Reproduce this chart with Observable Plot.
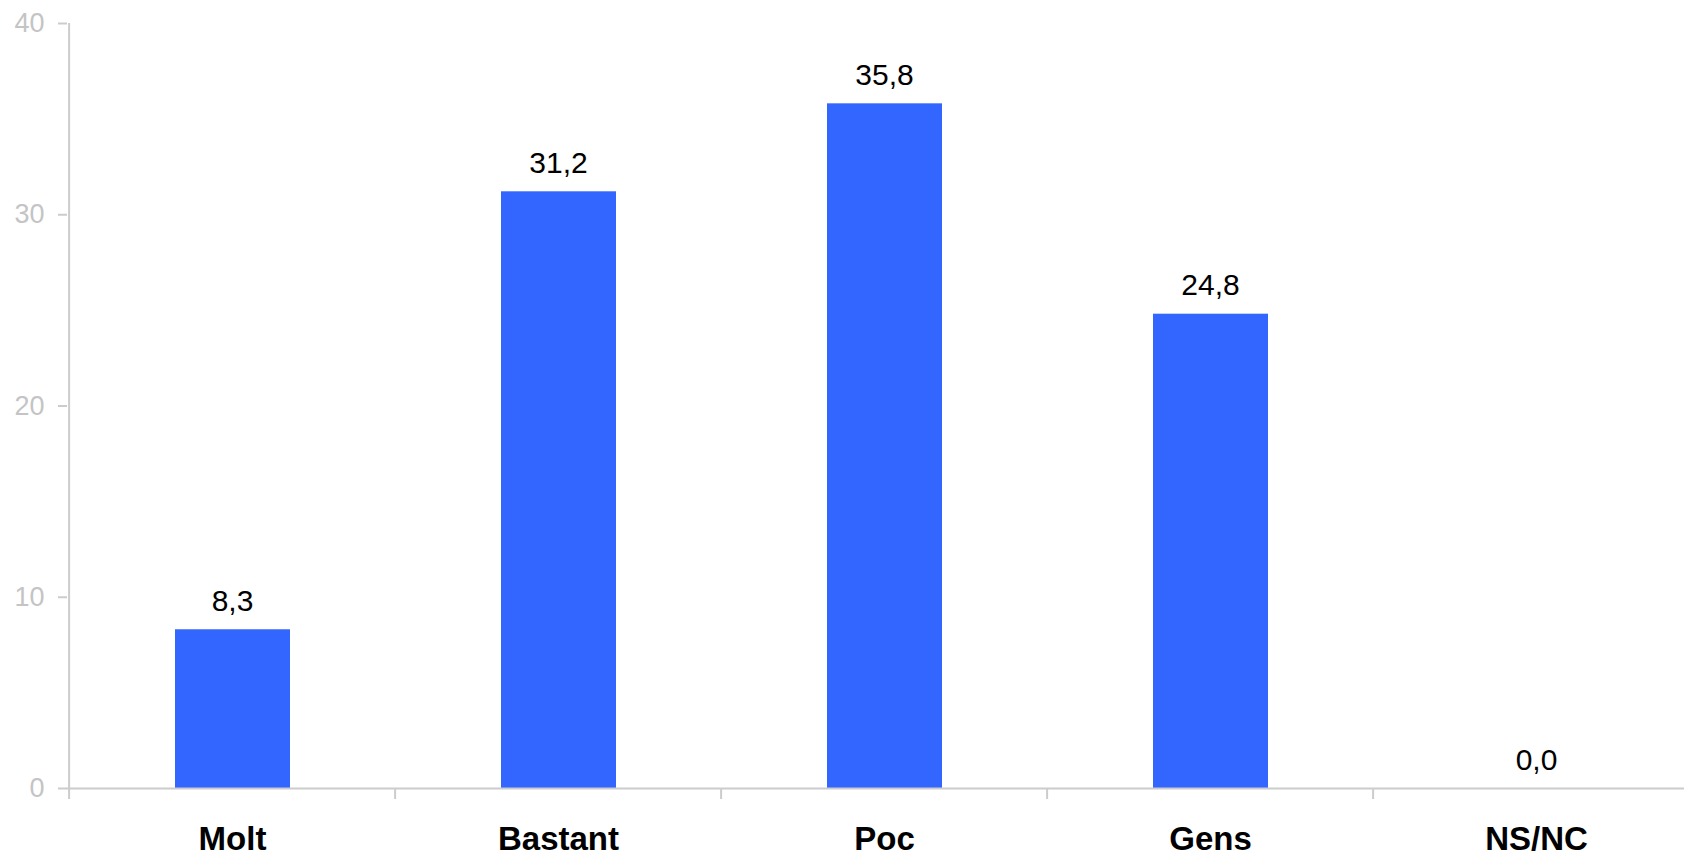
<!DOCTYPE html>
<html>
<head>
<meta charset="utf-8">
<script src="https://cdn.jsdelivr.net/npm/d3@7"></script>
<script src="https://cdn.jsdelivr.net/npm/@observablehq/plot@0.6"></script>
<style>
  html, body { margin: 0; padding: 0; background: #fff; overflow: hidden; }
  #chart svg { display: block; overflow: hidden; }
</style>
</head>
<body>
<div id="chart"></div>
<script>
const categories = ["Molt", "Bastant", "Poc", "Gens", "NS/NC"];
const values = [8.3, 31.2, 35.8, 24.8, 0.0];
const yTicks = [0, 10, 20, 30, 40];

const data = categories.map((c, i) => ({category: c, value: values[i]}));

const W = 1684, H = 857;
const mL = 67, mR = -17, mT = 23, mB = 69;
const step = (W - mL - mR) / categories.length;
const font = "'Liberation Sans', Arial, Helvetica, sans-serif";
const axisColor = "#cccccc";
const below = 11 * 40 / (H - mT - mB); // 11px below baseline, in data units

const chart = Plot.plot({
  width: W,
  height: H,
  marginLeft: mL,
  marginRight: mR,
  marginTop: mT,
  marginBottom: mB,
  style: {fontFamily: font, background: "#fff"},
  x: {domain: categories, padding: 0, axis: null},
  y: {domain: [0, 40], axis: null},
  marks: [
    Plot.barY(data, {x: "category", y: "value", fill: "#3366ff", insetLeft: 106, insetRight: 105}),
    // baseline
    Plot.ruleY([0], {stroke: axisColor, strokeWidth: 2}),
    // category boundary ticks (and y axis line)
    Plot.ruleX(categories, {x: d => d, dx: -step / 2, y1: 0, y2: -below, stroke: axisColor, strokeWidth: 2}),
    Plot.ruleX([categories[0]], {x: d => d, dx: -step / 2, y1: 40, y2: 0, stroke: axisColor, strokeWidth: 2}),
    // y ticks
    Plot.axisY({ticks: yTicks, tickSize: 9, tickFormat: () => "", color: axisColor, strokeWidth: 2, label: null}),
    Plot.axisY({ticks: yTicks, tickSize: 0, tickPadding: 23, color: "#c4c4c4", fontSize: 27, label: null}),
    // value labels
    Plot.text(data, {
      x: "category", y: "value",
      text: d => d.value.toFixed(1).replace(".", ","),
      dy: -19, lineAnchor: "bottom", fontSize: 30, fill: "#000"
    }),
    // category labels
    Plot.text(categories, {
      x: d => d, frameAnchor: "bottom", dy: 61, lineAnchor: "bottom",
      fontSize: 33, fontWeight: "bold", fill: "#000"
    })
  ]
});
document.getElementById("chart").appendChild(chart);
</script>
</body>
</html>
